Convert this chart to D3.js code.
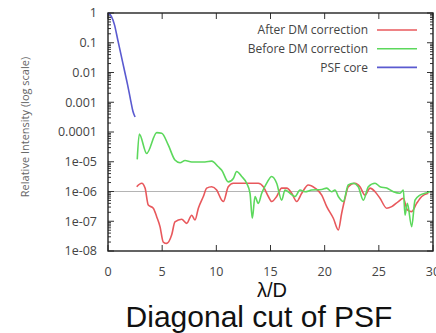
<!DOCTYPE html>
<html>
<head>
<meta charset="utf-8">
<script src="https://cdn.jsdelivr.net/npm/d3@7"></script>
<style>
  html, body { margin: 0; padding: 0; background: #fff; }
  svg { display: block; }
</style>
</head>
<body>
<svg id="chart" width="436" height="333"></svg>
<script>
// PSF diagonal cut: relative intensity vs separation in λ/D
const psfX = [0, 0.3, 0.6, 0.9, 1.2, 1.5, 1.8, 2.1, 2.3, 2.5];
const psfY = [1, 0.79, 0.40, 0.126, 0.040, 0.0126, 0.0040, 0.00112, 0.0005, 0.00032];

const beforeX = [2.70, 2.89, 3.57, 4.50, 4.96, 5.57, 6.18, 6.65, 7.11, 7.73, 8.95, 9.57, 10.18,
  10.50, 11.10, 11.57, 11.88, 12.34, 12.80, 13.11, 13.32, 13.57, 13.87, 14.19, 14.65, 15.11,
  15.57, 16.03, 16.34, 16.80, 17.26, 17.72, 18.19, 18.80, 19.73, 20.19, 20.65, 20.95, 21.26,
  21.72, 22.18, 22.64, 23.10, 23.57, 24.03, 24.65, 25.11, 25.73, 26.34, 26.95, 27.26, 27.42,
  27.63, 28.03, 28.34, 28.80, 29.26, 29.72];
const beforeY = [1.2e-5, 8.5e-5, 1.9e-5, 9.5e-5, 9.1e-5, 3.6e-5, 1.15e-5, 9.3e-6, 1.1e-5, 9.8e-6, 9.8e-6, 1.05e-5, 6.8e-6,
  5.2e-6, 2.1e-6, 2.75e-6, 4.7e-6, 3.2e-6, 1.9e-6, 8.7e-7, 1.26e-7, 6.8e-7, 4.0e-7, 8.7e-7, 1.9e-6, 3.2e-6,
  1.9e-6, 5.1e-7, 1.12e-6, 8.7e-7, 6.8e-7, 1.12e-6, 9.8e-7, 1.12e-6, 1.17e-6, 1.3e-6, 9.8e-7, 1.12e-6, 6.8e-7,
  4.6e-7, 1.66e-6, 1.9e-6, 1.45e-6, 5.1e-7, 1.45e-6, 1.9e-6, 1.45e-6, 1.3e-6, 9.8e-7, 8.7e-7, 1.12e-6, 1.6e-7,
  4.0e-7, 6.6e-8, 5.1e-7, 7.6e-7, 8.7e-7, 9.8e-7];

const afterX = [2.65, 3.11, 3.42, 3.72, 4.18, 4.50, 4.80, 5.10, 5.42, 5.88, 6.18, 6.80, 7.26, 7.73,
  8.03, 8.34, 8.80, 9.11, 9.57, 10.03, 10.50, 10.65, 11.10, 11.57, 12.65, 13.87, 14.34, 14.80,
  15.11, 15.57, 16.03, 16.50, 16.96, 17.42, 17.88, 18.49, 19.11, 19.73, 20.19, 20.80, 21.26,
  21.57, 21.88, 22.18, 22.80, 23.26, 23.72, 24.19, 24.65, 25.11, 25.73, 26.19, 26.80, 27.26,
  27.63, 28.03, 28.49, 28.96, 29.57];
const afterY = [1.45e-6, 1.9e-6, 1.3e-6, 3.5e-7, 2.75e-7, 1.4e-7, 6.6e-8, 2.0e-8, 1.8e-8, 3.5e-8, 9.5e-8, 1.17e-7, 8.5e-8, 1.6e-7,
  1.1e-7, 2.75e-7, 6.8e-7, 1.3e-6, 1.45e-6, 1.12e-6, 5.1e-7, 4.6e-7, 1.45e-6, 1.9e-6, 1.9e-6, 1.9e-6, 1.45e-6, 6.8e-7,
  4.6e-7, 6.8e-7, 1.3e-6, 1.3e-6, 8.7e-7, 4.6e-7, 8.7e-7, 1.66e-6, 1.3e-6, 7.6e-7, 3.1e-7, 1.26e-7, 5.1e-8,
  1.86e-7, 5.9e-7, 1.45e-6, 1.9e-6, 1.45e-6, 7.6e-7, 1.3e-6, 9.8e-7, 5.9e-7, 2.75e-7, 3.1e-7, 4.6e-7, 5.9e-7,
  2.4e-7, 2.1e-7, 4.0e-7, 6.8e-7, 8.7e-7];

const xTicks = [0, 5, 10, 15, 20, 25, 30];
const yTicks = [1, 0.1, 0.01, 0.001, 0.0001, 1e-5, 1e-6, 1e-7, 1e-8];
const yTickLabels = ["1", "0.1", "0.01", "0.001", "0.0001", "1e-05", "1e-06", "1e-07", "1e-08"];
const refLevel = 1e-6;

const seriesNames = ["After DM correction", "Before DM correction", "PSF core"];
const seriesColors = ["#e8585c", "#5cd85c", "#5a5ad0"];

const svg = d3.select("#chart");
const plotL = 108, plotR = 433, plotT = 13, plotB = 251;

const x = d3.scaleLinear().domain([0, 30]).range([plotL, plotR]);
const y = d3.scaleLog().domain([1e-8, 1]).range([plotB, plotT]);

const tickFont = "'Open Sans', 'DejaVu Sans', sans-serif";
const textColor = "#444";

// reference level
svg.append("line")
  .attr("x1", plotL).attr("x2", plotR)
  .attr("y1", y(refLevel)).attr("y2", y(refLevel))
  .attr("stroke", "#b4b4b4").attr("stroke-width", 1);

// minor log ticks on left and right edges
const minor = [];
for (let e = -8; e < 0; e++) for (let m = 2; m <= 9; m++) minor.push(m * Math.pow(10, e));
const g = svg.append("g").attr("stroke", "#333").attr("stroke-width", 1);
minor.forEach(v => {
  g.append("line").attr("x1", plotL).attr("x2", plotL + 3).attr("y1", y(v)).attr("y2", y(v));
  g.append("line").attr("x1", plotR).attr("x2", plotR - 3).attr("y1", y(v)).attr("y2", y(v));
});
yTicks.forEach(v => {
  g.append("line").attr("x1", plotL).attr("x2", plotL + 6).attr("y1", y(v)).attr("y2", y(v));
  g.append("line").attr("x1", plotR).attr("x2", plotR - 6).attr("y1", y(v)).attr("y2", y(v));
});
xTicks.forEach(v => {
  g.append("line").attr("x1", x(v)).attr("x2", x(v)).attr("y1", plotB).attr("y2", plotB - 6);
  g.append("line").attr("x1", x(v)).attr("x2", x(v)).attr("y1", plotT).attr("y2", plotT + 6);
});

// tick labels
svg.append("g").selectAll("text").data(yTicks).join("text")
  .attr("x", plotL - 11).attr("y", d => y(d)).attr("dy", "0.35em")
  .attr("text-anchor", "end")
  .attr("font-family", tickFont).attr("font-size", 12.5).attr("fill", textColor)
  .text((d, i) => yTickLabels[i]);

svg.append("g").selectAll("text").data(xTicks).join("text")
  .attr("x", d => x(d)).attr("y", 276)
  .attr("text-anchor", "middle")
  .attr("font-family", tickFont).attr("font-size", 12.5).attr("fill", textColor)
  .text(d => d);

// curves
const line = d3.line().x(d => x(d[0])).y(d => y(d[1])).curve(d3.curveMonotoneX);
const toPts = (xs, ys) => xs.map((v, i) => [v, ys[i]]);
const curves = [toPts(afterX, afterY), toPts(beforeX, beforeY), toPts(psfX, psfY)];
curves.forEach((pts, i) => {
  svg.append("path").attr("d", line(pts))
    .attr("fill", "none").attr("stroke", seriesColors[i])
    .attr("stroke-width", 1.6).attr("stroke-linejoin", "round");
});

// frame
svg.append("rect")
  .attr("x", plotL).attr("y", plotT).attr("width", plotR - plotL).attr("height", plotB - plotT)
  .attr("fill", "none").attr("stroke", "#222").attr("stroke-width", 1.4);

// legend
seriesNames.forEach((name, i) => {
  const ly = 30 + i * 18.7;
  svg.append("text").attr("x", 368).attr("y", ly).attr("dy", "0.35em")
    .attr("text-anchor", "end")
    .attr("font-family", tickFont).attr("font-size", 12).attr("fill", textColor)
    .text(name);
  svg.append("line").attr("x1", 377).attr("x2", 417).attr("y1", ly).attr("y2", ly)
    .attr("stroke", seriesColors[i]).attr("stroke-width", 1.6);
});

// axis titles
svg.append("text")
  .attr("transform", "translate(29,127) rotate(-90)")
  .attr("text-anchor", "middle")
  .attr("font-family", tickFont).attr("font-size", 11).attr("fill", "#666")
  .text("Relative Intensity (log scale)");

svg.append("text").attr("x", 272).attr("y", 297)
  .attr("text-anchor", "middle")
  .attr("font-family", "'Liberation Sans', Arial, sans-serif").attr("font-size", 20).attr("fill", "#111")
  .text("λ/D");

svg.append("text").attr("x", 259).attr("y", 327)
  .attr("text-anchor", "middle")
  .attr("font-family", "'Liberation Sans', Arial, sans-serif").attr("font-size", 30).attr("fill", "#111")
  .text("Diagonal cut of PSF");
</script>
</body>
</html>
